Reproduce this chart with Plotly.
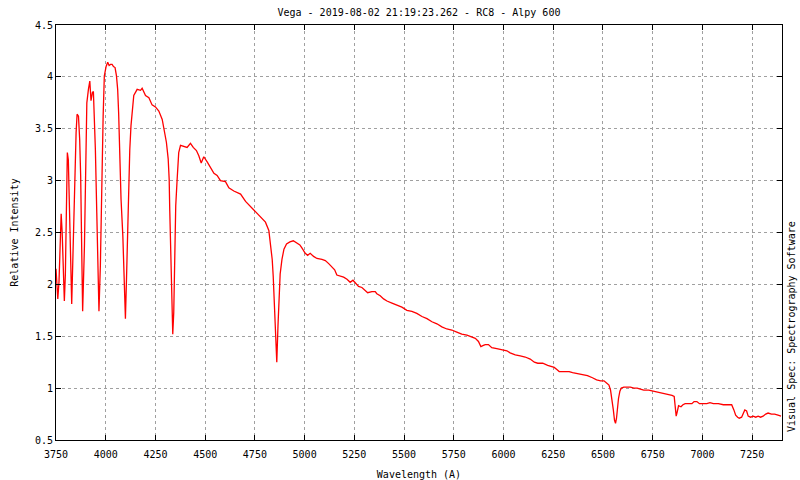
import plotly.graph_objects as go

# Vega spectrum (wavelength in Angstrom, relative intensity)
wavelength = [
    3750, 3759, 3765, 3770, 3776, 3781, 3787, 3792, 3797, 3802, 3807, 3812, 3817, 3822, 3829,
    3836, 3843, 3851, 3856, 3863, 3869, 3874, 3879, 3884, 3893, 3900, 3905, 3913, 3920, 3926,
    3933, 3938, 3943, 3948, 3955, 3961, 3966, 3973, 3980, 3987, 3993, 4002, 4010, 4017, 4024,
    4032, 4039, 4047, 4054, 4060, 4065, 4070, 4077, 4086, 4091, 4096, 4099, 4104, 4109, 4114,
    4121, 4127, 4134, 4141, 4158, 4175, 4183, 4200, 4217, 4233, 4250, 4267, 4284, 4295, 4305,
    4314, 4319, 4322, 4327, 4332, 4337, 4342, 4347, 4352, 4359, 4367, 4376, 4393, 4409, 4426,
    4440, 4456, 4468, 4480, 4493, 4510, 4527, 4544, 4560, 4577, 4602, 4619, 4644, 4678, 4703,
    4728, 4753, 4778, 4803, 4820, 4828, 4837, 4842, 4847, 4852, 4857, 4860, 4866, 4871, 4877,
    4886, 4896, 4909, 4926, 4943, 4959, 4976, 4987, 5003, 5015, 5028, 5045, 5062, 5087, 5104,
    5121, 5137, 5151, 5162, 5179, 5196, 5213, 5229, 5243, 5255, 5271, 5288, 5305, 5317, 5338,
    5355, 5363, 5380, 5397, 5414, 5439, 5464, 5489, 5514, 5539, 5564, 5590, 5615, 5640, 5665,
    5690, 5715, 5740, 5765, 5790, 5816, 5841, 5858, 5874, 5886, 5896, 5908, 5924, 5941, 5966,
    5992, 6017, 6033, 6059, 6084, 6109, 6134, 6155, 6172, 6197, 6222, 6238, 6255, 6268, 6280,
    6305, 6330, 6347, 6372, 6397, 6422, 6447, 6468, 6488, 6505, 6518, 6530, 6538, 6545, 6552,
    6558, 6563, 6568, 6573, 6578, 6585, 6592, 6605, 6622, 6638, 6655, 6672, 6688, 6705, 6730,
    6755, 6780, 6805, 6830, 6847, 6858, 6863, 6868, 6873, 6880, 6892, 6902, 6913, 6930, 6947,
    6958, 6972, 6985, 7005, 7022, 7038, 7055, 7080, 7105, 7130, 7147, 7158, 7167, 7177, 7185,
    7197, 7205, 7213, 7222, 7230, 7242, 7255, 7268, 7280, 7292, 7305, 7318, 7330, 7347, 7363,
    7380, 7395,
]
intensity = [
    2.15, 1.86, 2.02, 2.28, 2.68, 2.50, 2.12, 1.84, 2.09, 2.63, 3.27, 3.20, 2.82, 2.34, 1.81,
    2.34, 2.92, 3.46, 3.64, 3.62, 3.40, 3.05, 2.37, 1.74, 2.37, 3.14, 3.75, 3.88, 3.96, 3.77,
    3.85, 3.86, 3.65, 3.30, 2.69, 2.18, 1.74, 2.18, 2.98, 3.62, 4.01, 4.10, 4.14, 4.11, 4.12,
    4.12, 4.10, 4.09, 4.01, 3.88, 3.65, 3.30, 2.82, 2.47, 2.15, 1.83, 1.67, 2.02, 2.47, 2.92,
    3.30, 3.53, 3.72, 3.82, 3.88, 3.87, 3.89, 3.82, 3.80, 3.73, 3.71, 3.67, 3.59, 3.46, 3.37,
    3.21, 3.01, 2.71, 2.26, 1.89, 1.52, 1.73, 2.37, 2.76, 3.01, 3.27, 3.34, 3.33, 3.32, 3.36,
    3.32, 3.29, 3.24, 3.17, 3.23, 3.18, 3.13, 3.07, 3.05, 3.00, 2.99, 2.93, 2.90, 2.87, 2.80,
    2.75, 2.71, 2.66, 2.60, 2.52, 2.40, 2.24, 2.08, 1.86, 1.54, 1.31, 1.25, 1.60, 1.89, 2.10,
    2.24, 2.34, 2.39, 2.41, 2.42, 2.40, 2.38, 2.35, 2.30, 2.28, 2.30, 2.27, 2.25, 2.24, 2.23,
    2.20, 2.17, 2.14, 2.09, 2.08, 2.07, 2.05, 2.02, 2.04, 2.01, 1.98, 1.97, 1.94, 1.92, 1.93,
    1.93, 1.91, 1.89, 1.86, 1.84, 1.82, 1.80, 1.78, 1.75, 1.74, 1.72, 1.69, 1.67, 1.64, 1.62,
    1.59, 1.57, 1.56, 1.54, 1.52, 1.51, 1.49, 1.48, 1.45, 1.40, 1.41, 1.42, 1.42, 1.39, 1.38,
    1.37, 1.36, 1.34, 1.32, 1.31, 1.30, 1.28, 1.25, 1.24, 1.24, 1.22, 1.21, 1.20, 1.18, 1.16,
    1.16, 1.16, 1.15, 1.14, 1.13, 1.12, 1.10, 1.08, 1.07, 1.07, 1.05, 1.03, 0.98, 0.90, 0.79,
    0.69, 0.66, 0.71, 0.81, 0.90, 0.97, 1.00, 1.01, 1.01, 1.01, 1.00, 1.00, 0.99, 0.98, 0.98,
    0.97, 0.96, 0.95, 0.94, 0.93, 0.92, 0.82, 0.73, 0.77, 0.83, 0.82, 0.84, 0.85, 0.85, 0.85,
    0.87, 0.87, 0.85, 0.85, 0.85, 0.86, 0.85, 0.85, 0.84, 0.84, 0.84, 0.79, 0.74, 0.72, 0.71,
    0.72, 0.76, 0.79, 0.78, 0.73, 0.72, 0.73, 0.72, 0.73, 0.72, 0.73, 0.75, 0.76, 0.75, 0.75,
    0.74, 0.73,
]

x_ticks = [3750, 4000, 4250, 4500, 4750, 5000, 5250, 5500, 5750, 6000, 6250, 6500, 6750, 7000, 7250]
y_ticks = [0.5, 1, 1.5, 2, 2.5, 3, 3.5, 4, 4.5]
y_labels = ["0.5", "1", "1.5", "2", "2.5", "3", "3.5", "4", "4.5"]

font = dict(family="DejaVu Sans Mono", size=10, color="black")

fig = go.Figure()
fig.add_trace(go.Scatter(x=wavelength, y=intensity, mode="lines",
                         line=dict(color="#ff0000", width=1.3),
                         showlegend=False, hoverinfo="skip"))

axis_style = dict(showline=True, linecolor="black", linewidth=1, mirror="ticks",
                  ticks="inside", ticklen=5, tickcolor="black",
                  showgrid=True, gridcolor="#a0a0a0", griddash="dot", gridwidth=1,
                  zeroline=False, tickfont=font, automargin=False)

fig.update_xaxes(range=[3750, 7400], tickvals=x_ticks, ticklabelstandoff=5,
                 title=dict(text="Wavelength (A)", font=font, standoff=14), **axis_style)
fig.update_yaxes(range=[0.5, 4.5], tickvals=y_ticks, ticktext=y_labels,
                 title=dict(text="Relative Intensity", font=font, standoff=14), **axis_style)

fig.update_layout(
    width=800, height=480,
    margin=dict(l=56, r=18, t=25, b=40, autoexpand=False),
    plot_bgcolor="white", paper_bgcolor="white",
    font=font,
    title=dict(text="Vega - 2019-08-02 21:19:23.262 - RC8 - Alpy 600",
               x=0.5237, xanchor="center", y=0.975, yanchor="middle", font=font,
               automargin=False),
)

fig.add_annotation(text="Visual Spec: Spectrography Software", textangle=-90,
                   xref="paper", yref="paper", x=1, y=0, xanchor="left", yanchor="bottom",
                   xshift=2, yshift=6, showarrow=False, font=font)

# the page body has an 8px default margin, drop it so the 800x480 figure fits the window
fig.write_html("out.html", config={"displayModeBar": False},
               post_script="document.body.style.margin='0';")
